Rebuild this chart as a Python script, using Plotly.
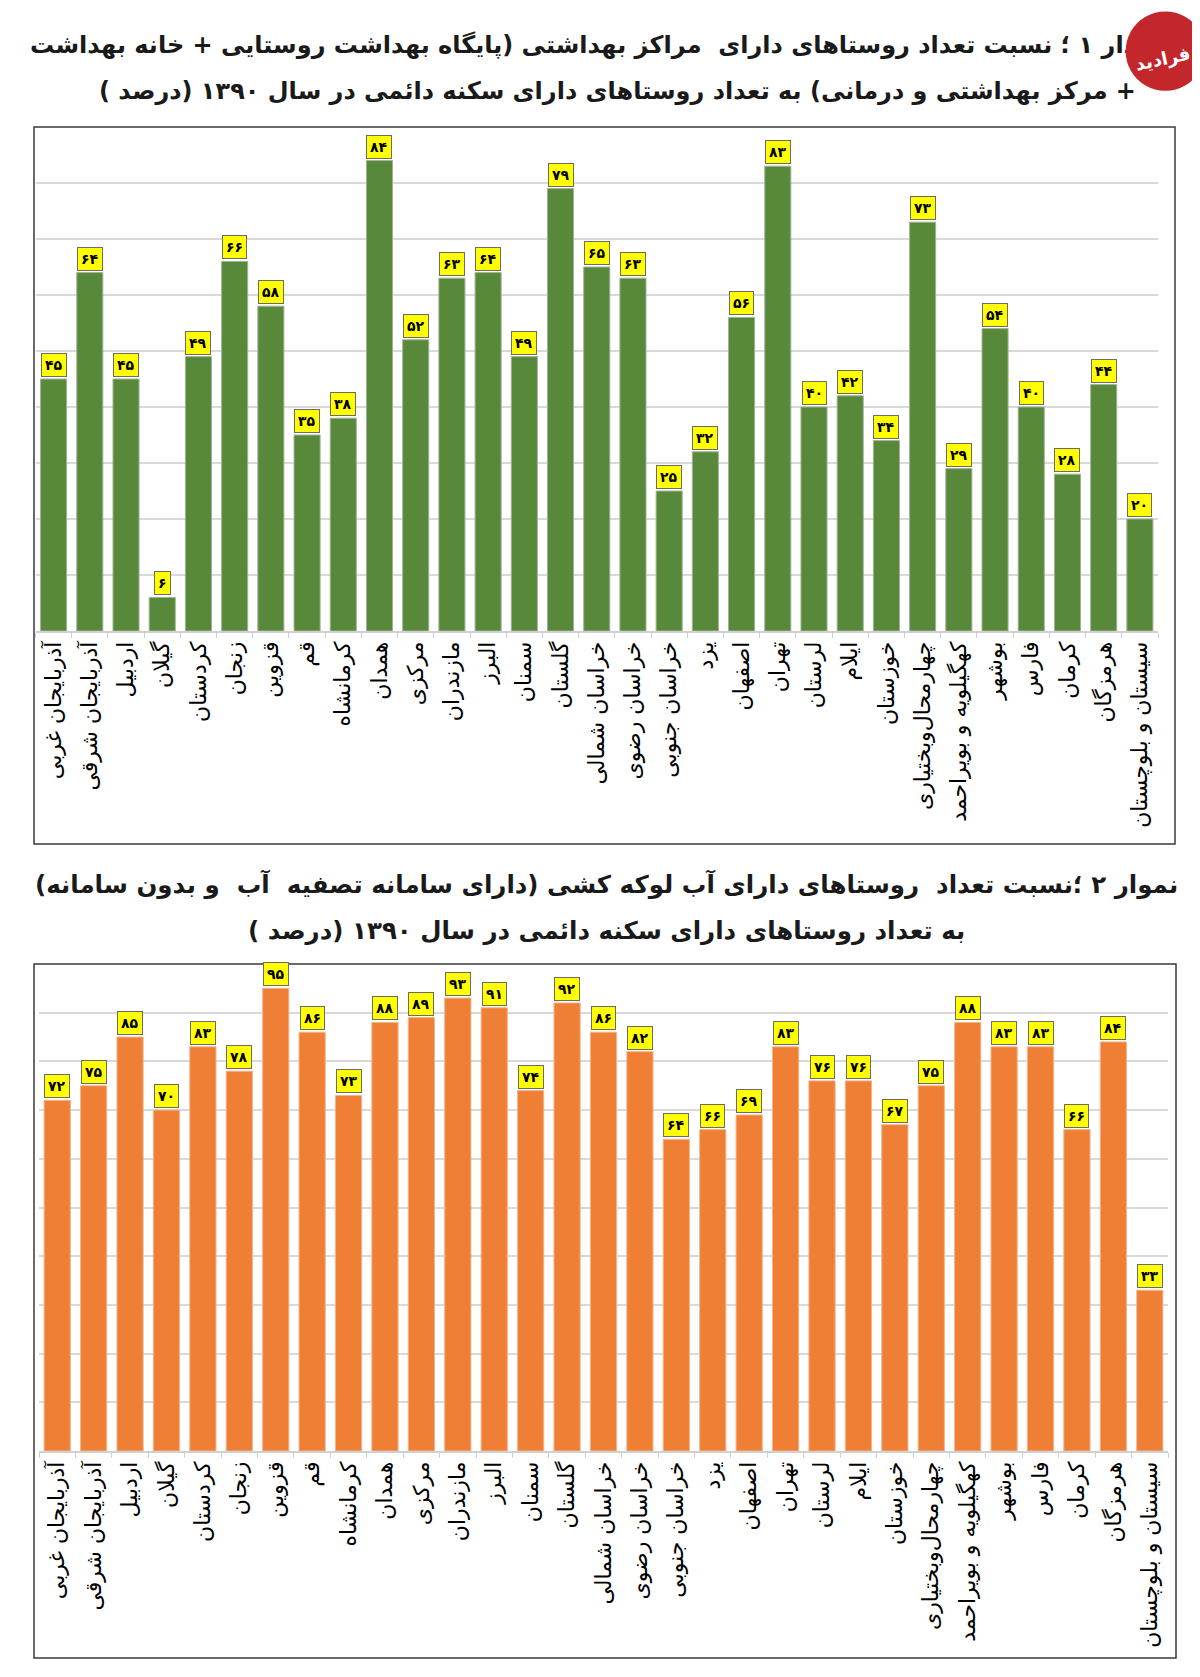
import plotly.graph_objects as go

# data
provinces = ["آذربایجان غربی", "آذربایجان شرقی", "اردبیل", "گیلان", "کردستان",
             "زنجان", "قزوین", "قم", "کرمانشاه", "همدان", "مرکزی", "مازندران",
             "البرز", "سمنان", "گلستان", "خراسان شمالی", "خراسان رضوی",
             "خراسان جنوبی", "یزد", "اصفهان", "تهران", "لرستان", "ایلام",
             "خوزستان", "چهارمحال‌وبختیاری", "کهگیلویه و بویراحمد", "بوشهر",
             "فارس", "کرمان", "هرمزگان", "سیستان و بلوچستان"]

health_pct = [45, 64, 45, 6, 49, 66, 58, 35, 38, 84, 52, 63, 64, 49, 79, 65,
              63, 25, 32, 56, 83, 40, 42, 34, 73, 29, 54, 40, 28, 44, 20]

water_pct = [72, 75, 85, 70, 83, 78, 95, 86, 73, 88, 89, 93, 91, 74, 92, 86,
             82, 64, 66, 69, 83, 76, 76, 67, 75, 88, 83, 83, 66, 84, 33]

title1_l1 = "نمودار ۱ ؛ نسبت تعداد روستاهای دارای  مراکز بهداشتی (پایگاه بهداشت روستایی + خانه بهداشت"
title1_l2 = "+ مرکز بهداشتی و درمانی) به تعداد روستاهای دارای سکنه دائمی در سال ۱۳۹۰ (درصد )"
title2_l1 = "نموار ۲ ؛نسبت تعداد  روستاهای دارای آب لوکه کشی (دارای سامانه تصفیه  آب  و بدون سامانه)"
title2_l2 = "به تعداد روستاهای دارای سکنه دائمی در سال ۱۳۹۰ (درصد )"

W, H = 1200, 1677
FONT = "DejaVu Sans"
RLM = "\u200f"


def fa(n):
    return str(n).translate(str.maketrans("0123456789", "۰۱۲۳۴۵۶۷۸۹"))


def px(x):
    return x / W


def py(y):
    return 1 - y / H


fig = go.Figure()

fig.add_trace(go.Bar(x=provinces, y=health_pct, xaxis="x", yaxis="y",
                     marker=dict(color="#58883a", line=dict(color="#9fb394", width=1)),
                     hoverinfo="x+y"))
fig.add_trace(go.Bar(x=provinces, y=water_pct, xaxis="x2", yaxis="y2",
                     marker=dict(color="#f07f36", line=dict(color="#f4b48a", width=1)),
                     hoverinfo="x+y"))

annotations = []
for xa, ya, vals in [("x", "y", health_pct), ("x2", "y2", water_pct)]:
    for p, v in zip(provinces, vals):
        annotations.append(dict(
            x=p, y=v, xref=xa, yref=ya, text="<b>" + fa(v) + "</b>",
            showarrow=False, yanchor="bottom", yshift=2,
            font=dict(family=FONT, size=14, color="black"),
            bgcolor="#ffff00", bordercolor="#6b6b6b", borderwidth=1, borderpad=3))

# titles
for text, xpos, ypos, anchor, size in [(title1_l1, 1170, 37, "right", 24),
                                       (title1_l2, 1130, 83, "right", 24),
                                       (title2_l1, 598, 877, "center", 24.5),
                                       (title2_l2, 598, 923, "center", 24.5)]:
    annotations.append(dict(x=px(xpos), y=py(ypos), xref="paper", yref="paper",
                            text="<b>" + RLM + text + RLM + "</b>", showarrow=False,
                            xanchor=anchor, yanchor="middle",
                            font=dict(family=FONT, size=size, color="#1a1a1a")))

# logo (drawn as text so it sits above the title)
annotations.append(dict(x=px(1157), y=py(34), xref="paper", yref="paper",
                        text="●", showarrow=False, xanchor="center", yanchor="middle",
                        font=dict(family=FONT, size=104, color="#c3262b")))
annotations.append(dict(x=px(1155), y=py(51), xref="paper", yref="paper",
                        text="<b>فرادید</b>", showarrow=False, textangle=-12,
                        xanchor="center", yanchor="middle",
                        font=dict(family=FONT, size=18, color="white")))

shapes = [
    dict(type="rect", xref="paper", yref="paper", x0=px(26), x1=px(1167),
         y0=py(836), y1=py(119), line=dict(color="#3a3a3a", width=1.5)),
    dict(type="rect", xref="paper", yref="paper", x0=px(26), x1=px(1168),
         y0=py(1650), y1=py(956), line=dict(color="#3a3a3a", width=1.5)),
]

xcommon = dict(type="category", tickangle=-90, ticks="outside", tickson="boundaries",
               ticklen=5, tickcolor="#d0d0d0", showline=True, linecolor="#d0d0d0",
               linewidth=1.5, showgrid=False, fixedrange=True,
               tickfont=dict(family=FONT, size=22, color="black"))
ycommon = dict(showticklabels=False, showgrid=True, gridcolor="#d9d9d9", gridwidth=1.5,
               dtick=10, zeroline=False, showline=False, ticks="", fixedrange=True)

fig.update_layout(
    width=W, height=H,
    margin=dict(l=0, r=0, t=0, b=0),
    paper_bgcolor="white", plot_bgcolor="white",
    showlegend=False, bargap=0.28,
    xaxis=dict(xcommon, domain=[px(27.5), px(1150)], anchor="y"),
    yaxis=dict(ycommon, domain=[py(623), py(119)], range=[0, 90], anchor="x"),
    xaxis2=dict(xcommon, domain=[px(31), px(1160)], anchor="y2"),
    yaxis2=dict(ycommon, domain=[py(1443), py(956)], range=[0, 100], anchor="x2"),
    annotations=annotations,
    shapes=shapes,
)

fig.write_html("out.html")
